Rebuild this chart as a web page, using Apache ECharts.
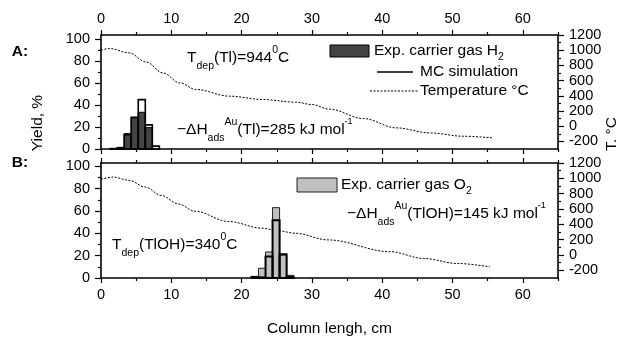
<!DOCTYPE html>
<html><head><meta charset="utf-8">
<script src="https://cdn.jsdelivr.net/npm/echarts@6/dist/echarts.min.js"></script>
<style>html,body{margin:0;padding:0;background:#fff}#c{width:625px;height:345px}</style>
</head><body><div id="c"></div>
<script>
// ---- tick labels ----
const xMajorTicks = [0, 10, 20, 30, 40, 50, 60];
const xMinorTicks = [5, 15, 25, 35, 45, 55, 65];
const yMajorTicks = [0, 20, 40, 60, 80, 100];
const yMinorTicks = [10, 30, 50, 70, 90];
const tMajorTicks = [-200, 0, 200, 400, 600, 800, 1000, 1200];
const tMinorTicks = [-100, 100, 300, 500, 700, 900, 1100];

// ---- panel A (carrier gas H2) ----
const binWidth = 1; // cm
const expA_pos = [1.8, 2.8, 3.8, 4.8, 5.8, 6.8];
const expA_val = [0.5, 1.5, 14, 28.5, 33.5, 19.5];
const mcA_pos = [1.8, 2.8, 3.8, 4.8, 5.8, 6.8, 7.8];
const mcA_val = [0.3, 1, 13, 29, 45, 22, 2.6];
const tempA_pos = [0, 1.2, 4, 6.4, 8.8, 11.2, 13.5, 18.3, 23, 27.7, 30, 32.5, 37.3, 42, 46.8, 51.5, 55.8];
const tempA_val = [1000, 1022, 965, 846, 701, 570, 483, 395, 351, 316, 285, 225, 101, -22, -88, -132, -154];

// ---- panel B (carrier gas O2) ----
const expB_pos = [21.9, 22.9, 23.9, 24.9, 25.9, 26.9];
const expB_val = [0.5, 8.7, 23.3, 63, 20.5, 2.4];
const mcB_pos = [21.9, 22.9, 23.9, 24.9, 25.9, 26.9];
const mcB_val = [1, 0.5, 19.2, 51.7, 21.2, 1];
const tempB_pos = [0, 1.7, 4, 6.3, 8.6, 11, 13.4, 18.1, 22.9, 25.2, 27.6, 32.3, 41.1, 45.9, 50.6, 55.3];
const tempB_val = [987, 1017, 974, 886, 776, 666, 570, 438, 350, 316, 284, 197, 43, -45, -110, -154];

const F = 'Liberation Sans, Arial, Helvetica, sans-serif';
const zip = (a, b) => a.map((v, i) => [v, b[i]]);
const plain = v => String(v);

function xAx(grid, pos, ticks, len, showLabel, showLine) {
  return {
    type: 'value', gridIndex: grid, position: pos, min: 0, max: 65,
    axisLine: { show: showLine, onZero: false, lineStyle: { color: '#000', width: 1.6 } },
    axisTick: { show: true, inside: false, length: len, customValues: ticks, lineStyle: { color: '#000', width: 1.2 } },
    axisLabel: { show: showLabel, customValues: xMajorTicks, formatter: plain, margin: 9, color: '#000', fontSize: 14.5, fontFamily: F },
    splitLine: { show: false }
  };
}
function yAx(grid, pos, min, max, ticks, len, showLabel, showLine, labels) {
  return {
    type: 'value', gridIndex: grid, position: pos, min: min, max: max,
    axisLine: { show: showLine, onZero: false, lineStyle: { color: '#000', width: 1.6 } },
    axisTick: { show: true, inside: false, length: len, customValues: ticks, lineStyle: { color: '#000', width: 1.2 } },
    axisLabel: { show: showLabel, customValues: labels, formatter: plain, margin: 11, color: '#000', fontSize: 14.5, fontFamily: F },
    splitLine: { show: false }
  };
}
function barRender(fill, stroke, lw) {
  return function (params, api) {
    const x = api.value(0), y = api.value(1);
    const p0 = api.coord([x - binWidth / 2, y]);
    const p1 = api.coord([x + binWidth / 2, 0]);
    return { type: 'rect', shape: { x: p0[0], y: p0[1], width: p1[0] - p0[0], height: p1[1] - p0[1] },
      style: { fill: fill, stroke: stroke, lineWidth: lw } };
  };
}

const rich = {
  m: { fontSize: 15.5, fontFamily: F, fill: '#000', verticalAlign: 'middle' },
  sub: { fontSize: 10.5, fontFamily: F, fill: '#000', padding: [16, 0, 0, 0], verticalAlign: 'middle' },
  sup: { fontSize: 10.5, fontFamily: F, fill: '#000', padding: [0, 0, 16, 0], verticalAlign: 'middle' },
  sup1: { fontSize: 9, fontFamily: F, fill: '#000', padding: [0, 0, 16, 0], verticalAlign: 'middle' },
  sub2: { fontSize: 10.5, fontFamily: F, fill: '#000', padding: [12, 0, 0, 0], verticalAlign: 'middle' }
};
function txt(x, y, text, extra) {
  return Object.assign({ type: 'text', x: x, y: y, z: 100,
    style: { text: text, rich: rich, fontSize: 15.5, fontFamily: F, fill: '#000', align: 'left', verticalAlign: 'middle' } }, extra || {});
}

const option = {
  animation: false,
  backgroundColor: '#fff',
  grid: [
    { left: 101, right: 67, top: 35, height: 114, outerBoundsMode: 'none' },
    { left: 101, right: 67, top: 163, height: 115, outerBoundsMode: 'none' }
  ],
  xAxis: [
    xAx(0, 'top', xMajorTicks, 5, true, true),
    xAx(0, 'top', xMinorTicks, 3, false, false),
    xAx(0, 'bottom', xMajorTicks, 5, false, true),
    xAx(0, 'bottom', xMinorTicks, 3, false, false),
    xAx(1, 'top', xMajorTicks, 5, false, true),
    xAx(1, 'top', xMinorTicks, 3, false, false),
    Object.assign(xAx(1, 'bottom', xMajorTicks, 5, true, true), {
      name: 'Column lengh, cm', nameLocation: 'middle', nameGap: 43,
      nameTextStyle: { fontSize: 15.5, fontFamily: F, color: '#000' } }),
    xAx(1, 'bottom', xMinorTicks, 3, false, false)
  ],
  yAxis: [
    yAx(0, 'left', 0, 104, yMajorTicks, 6, true, true, yMajorTicks),
    yAx(0, 'left', 0, 104, yMinorTicks, 3, false, false, yMajorTicks),
    yAx(0, 'right', -300, 1200, tMajorTicks, 6, true, true, tMajorTicks),
    yAx(0, 'right', -300, 1200, tMinorTicks, 3, false, false, tMajorTicks),
    yAx(1, 'left', 0, 103, yMajorTicks, 6, true, true, yMajorTicks),
    yAx(1, 'left', 0, 103, yMinorTicks, 3, false, false, yMajorTicks),
    yAx(1, 'right', -300, 1200, tMajorTicks, 6, true, true, tMajorTicks),
    yAx(1, 'right', -300, 1200, tMinorTicks, 3, false, false, tMajorTicks)
  ],
  series: [
    { name: 'Temperature °C', type: 'line', xAxisIndex: 2, yAxisIndex: 2, data: zip(tempA_pos, tempA_val),
      smooth: 0.35, smoothMonotone: 'x', showSymbol: false, symbol: 'none', z: 1,
      lineStyle: { color: '#000', width: 1, type: [2, 1.5] } },
    { name: 'Exp. carrier gas H2', type: 'custom', xAxisIndex: 2, yAxisIndex: 0, z: 3,
      data: zip(expA_pos, expA_val), renderItem: barRender('#444', '#000', 1) },
    { name: 'MC simulation', type: 'custom', xAxisIndex: 2, yAxisIndex: 0, z: 4,
      data: zip(mcA_pos, mcA_val), renderItem: barRender('none', '#000', 1.6) },
    { name: 'Temperature B', type: 'line', xAxisIndex: 6, yAxisIndex: 6, data: zip(tempB_pos, tempB_val),
      smooth: 0.35, smoothMonotone: 'x', showSymbol: false, symbol: 'none', z: 1,
      lineStyle: { color: '#000', width: 1, type: [2, 1.5] } },
    { name: 'Exp. carrier gas O2', type: 'custom', xAxisIndex: 6, yAxisIndex: 4, z: 3,
      data: zip(expB_pos, expB_val), renderItem: barRender('#c0c0c0', '#222', 1) },
    { name: 'MC simulation B', type: 'custom', xAxisIndex: 6, yAxisIndex: 4, z: 4,
      data: zip(mcB_pos, mcB_val), renderItem: barRender('none', '#000', 2) }
  ],
  graphic: [
    // legend panel A
    { type: 'rect', shape: { x: 330, y: 45, width: 39, height: 12 }, style: { fill: '#444', stroke: '#000', lineWidth: 1 }, z: 100 },
    txt(374, 51, '{m|Exp. carrier gas H}{sub2|2}'),
    { type: 'line', shape: { x1: 377, y1: 72, x2: 413, y2: 72 }, style: { stroke: '#000', lineWidth: 1.6 }, z: 100 },
    txt(420, 72, '{m|MC simulation}'),
    { type: 'line', shape: { x1: 370, y1: 91, x2: 418, y2: 91 }, style: { stroke: '#000', lineWidth: 1, lineDash: [2, 1.5] }, z: 100 },
    txt(420, 91, '{m|Temperature °C}'),
    // legend panel B
    { type: 'rect', shape: { x: 297, y: 178, width: 40, height: 14 }, style: { fill: '#c0c0c0', stroke: '#222', lineWidth: 1 }, z: 100 },
    txt(341, 185, '{m|Exp. carrier gas O}{sub2|2}'),
    // annotations
    txt(187, 58, '{m|T}{sub|dep}{m|(Tl)=944}{sup|0}{m|C}'),
    txt(177, 130, '{m|−ΔH}{sub|ads}{sup|Au}{m|(Tl)=285 kJ mol}{sup1|-1}'),
    txt(347, 214, '{m|−ΔH}{sub|ads}{sup|Au}{m|(TlOH)=145 kJ mol}{sup1|-1}'),
    txt(112, 245, '{m|T}{sub|dep}{m|(TlOH)=340}{sup|0}{m|C}'),
    // panel labels and axis titles
    txt(20, 52, 'A:', { style: { text: 'A:', fontSize: 15.5, fontWeight: 'bold', fontFamily: F, fill: '#000', align: 'center', verticalAlign: 'middle' } }),
    txt(20, 163, 'B:', { style: { text: 'B:', fontSize: 15.5, fontWeight: 'bold', fontFamily: F, fill: '#000', align: 'center', verticalAlign: 'middle' } }),
    txt(38, 123, 'Yield, %', { rotation: Math.PI / 2, style: { text: 'Yield, %', fontSize: 15.5, fontFamily: F, fill: '#000', align: 'center', verticalAlign: 'middle' } }),
    txt(612, 134, 'T. °C', { rotation: Math.PI / 2, style: { text: 'T. °C', fontSize: 15.5, fontFamily: F, fill: '#000', align: 'center', verticalAlign: 'middle' } })
  ]
};
const chart = echarts.init(document.getElementById('c'), null, { renderer: 'canvas' });
chart.setOption(option);
</script></body></html>
